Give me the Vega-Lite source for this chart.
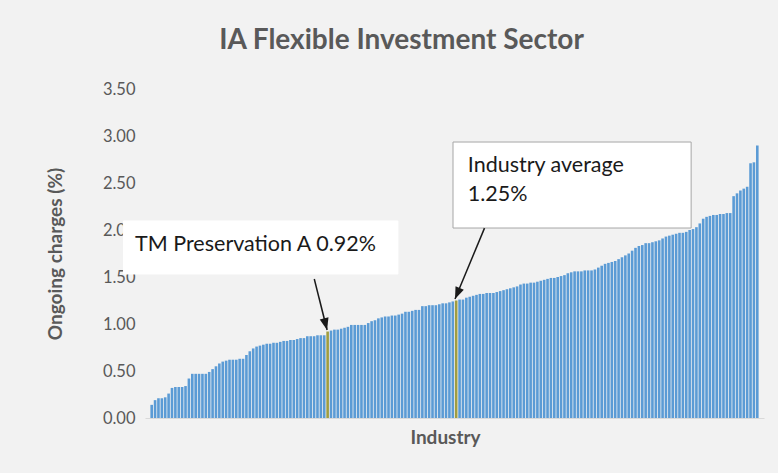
{
  "$schema": "https://vega.github.io/schema/vega-lite/v6.json",
  "autosize": {"type": "none"},
  "width": 619,
  "height": 329,
  "padding": {"left": 145, "top": 89, "right": 14, "bottom": 55},
  "background": "#f2f2f2",
  "config": {
    "view": {"stroke": null},
    "font": "Lato",
    "axisX": {
      "labels": false, "ticks": false, "grid": false,
      "domain": true, "domainColor": "#d9d9d9",
      "titleFont": "Lato", "titleFontSize": 19, "titleFontWeight": "bold", "titleColor": "#595959",
      "titleX": 300, "titleY": 19, "titleBaseline": "middle", "titleAlign": "center"
    },
    "axisY": {
      "grid": false, "domain": false, "ticks": false, "tickSize": 0, "zindex": 1,
      "labelPadding": 10, "labelFont": "Lato", "labelFontSize": 16.5, "labelColor": "#595959",
      "titleFont": "Lato", "titleFontSize": 19, "titleFontWeight": "bold", "titleColor": "#595959",
      "titleX": -90, "titleY": 164.5, "titleAngle": -90, "titleBaseline": "middle", "titleAlign": "center"
    }
  },
  "title": {
    "text": "IA Flexible Investment Sector",
    "fontSize": 28,
    "fontWeight": "bold",
    "color": "#595959",
    "font": "Lato",
    "anchor": "middle",
    "dx": -53,
    "offset": 26
  },
  "datasets": {
    "bars": [
      {"i":0,"v":0.14,"g":"Other"},{"i":1,"v":0.19,"g":"Other"},{"i":2,"v":0.21,"g":"Other"},{"i":3,"v":0.21,"g":"Other"},{"i":4,"v":0.22,"g":"Other"},
      {"i":5,"v":0.26,"g":"Other"},{"i":6,"v":0.32,"g":"Other"},{"i":7,"v":0.33,"g":"Other"},{"i":8,"v":0.33,"g":"Other"},{"i":9,"v":0.33,"g":"Other"},
      {"i":10,"v":0.34,"g":"Other"},{"i":11,"v":0.42,"g":"Other"},{"i":12,"v":0.47,"g":"Other"},{"i":13,"v":0.47,"g":"Other"},{"i":14,"v":0.47,"g":"Other"},
      {"i":15,"v":0.47,"g":"Other"},{"i":16,"v":0.47,"g":"Other"},{"i":17,"v":0.49,"g":"Other"},{"i":18,"v":0.52,"g":"Other"},{"i":19,"v":0.55,"g":"Other"},
      {"i":20,"v":0.58,"g":"Other"},{"i":21,"v":0.60,"g":"Other"},{"i":22,"v":0.61,"g":"Other"},{"i":23,"v":0.62,"g":"Other"},{"i":24,"v":0.62,"g":"Other"},
      {"i":25,"v":0.62,"g":"Other"},{"i":26,"v":0.63,"g":"Other"},{"i":27,"v":0.63,"g":"Other"},{"i":28,"v":0.67,"g":"Other"},{"i":29,"v":0.71,"g":"Other"},
      {"i":30,"v":0.74,"g":"Other"},{"i":31,"v":0.76,"g":"Other"},{"i":32,"v":0.77,"g":"Other"},{"i":33,"v":0.78,"g":"Other"},{"i":34,"v":0.79,"g":"Other"},
      {"i":35,"v":0.79,"g":"Other"},{"i":36,"v":0.80,"g":"Other"},{"i":37,"v":0.80,"g":"Other"},{"i":38,"v":0.81,"g":"Other"},{"i":39,"v":0.82,"g":"Other"},
      {"i":40,"v":0.82,"g":"Other"},{"i":41,"v":0.83,"g":"Other"},{"i":42,"v":0.83,"g":"Other"},{"i":43,"v":0.84,"g":"Other"},{"i":44,"v":0.85,"g":"Other"},
      {"i":45,"v":0.85,"g":"Other"},{"i":46,"v":0.87,"g":"Other"},{"i":47,"v":0.87,"g":"Other"},{"i":48,"v":0.87,"g":"Other"},{"i":49,"v":0.88,"g":"Other"},
      {"i":50,"v":0.88,"g":"Other"},{"i":51,"v":0.88,"g":"Other"},{"i":52,"v":0.92,"g":"TM Preservation A"},{"i":53,"v":0.93,"g":"Other"},{"i":54,"v":0.94,"g":"Other"},
      {"i":55,"v":0.94,"g":"Other"},{"i":56,"v":0.95,"g":"Other"},{"i":57,"v":0.96,"g":"Other"},{"i":58,"v":0.97,"g":"Other"},{"i":59,"v":0.99,"g":"Other"},
      {"i":60,"v":0.99,"g":"Other"},{"i":61,"v":0.99,"g":"Other"},{"i":62,"v":0.99,"g":"Other"},{"i":63,"v":0.99,"g":"Other"},{"i":64,"v":1.01,"g":"Other"},
      {"i":65,"v":1.03,"g":"Other"},{"i":66,"v":1.04,"g":"Other"},{"i":67,"v":1.06,"g":"Other"},{"i":68,"v":1.07,"g":"Other"},{"i":69,"v":1.08,"g":"Other"},
      {"i":70,"v":1.08,"g":"Other"},{"i":71,"v":1.09,"g":"Other"},{"i":72,"v":1.09,"g":"Other"},{"i":73,"v":1.10,"g":"Other"},{"i":74,"v":1.11,"g":"Other"},
      {"i":75,"v":1.13,"g":"Other"},{"i":76,"v":1.13,"g":"Other"},{"i":77,"v":1.14,"g":"Other"},{"i":78,"v":1.15,"g":"Other"},{"i":79,"v":1.15,"g":"Other"},
      {"i":80,"v":1.19,"g":"Other"},{"i":81,"v":1.19,"g":"Other"},{"i":82,"v":1.20,"g":"Other"},{"i":83,"v":1.20,"g":"Other"},{"i":84,"v":1.20,"g":"Other"},
      {"i":85,"v":1.21,"g":"Other"},{"i":86,"v":1.22,"g":"Other"},{"i":87,"v":1.22,"g":"Other"},{"i":88,"v":1.23,"g":"Other"},{"i":89,"v":1.24,"g":"Other"},
      {"i":90,"v":1.25,"g":"Industry average"},{"i":91,"v":1.26,"g":"Other"},{"i":92,"v":1.26,"g":"Other"},{"i":93,"v":1.28,"g":"Other"},{"i":94,"v":1.29,"g":"Other"},
      {"i":95,"v":1.30,"g":"Other"},{"i":96,"v":1.31,"g":"Other"},{"i":97,"v":1.32,"g":"Other"},{"i":98,"v":1.32,"g":"Other"},{"i":99,"v":1.33,"g":"Other"},
      {"i":100,"v":1.33,"g":"Other"},{"i":101,"v":1.33,"g":"Other"},{"i":102,"v":1.34,"g":"Other"},{"i":103,"v":1.35,"g":"Other"},{"i":104,"v":1.36,"g":"Other"},
      {"i":105,"v":1.37,"g":"Other"},{"i":106,"v":1.38,"g":"Other"},{"i":107,"v":1.39,"g":"Other"},{"i":108,"v":1.40,"g":"Other"},{"i":109,"v":1.42,"g":"Other"},
      {"i":110,"v":1.43,"g":"Other"},{"i":111,"v":1.43,"g":"Other"},{"i":112,"v":1.44,"g":"Other"},{"i":113,"v":1.44,"g":"Other"},{"i":114,"v":1.45,"g":"Other"},
      {"i":115,"v":1.46,"g":"Other"},{"i":116,"v":1.47,"g":"Other"},{"i":117,"v":1.48,"g":"Other"},{"i":118,"v":1.49,"g":"Other"},{"i":119,"v":1.49,"g":"Other"},
      {"i":120,"v":1.50,"g":"Other"},{"i":121,"v":1.51,"g":"Other"},{"i":122,"v":1.52,"g":"Other"},{"i":123,"v":1.54,"g":"Other"},{"i":124,"v":1.55,"g":"Other"},
      {"i":125,"v":1.56,"g":"Other"},{"i":126,"v":1.56,"g":"Other"},{"i":127,"v":1.56,"g":"Other"},{"i":128,"v":1.57,"g":"Other"},{"i":129,"v":1.57,"g":"Other"},
      {"i":130,"v":1.57,"g":"Other"},{"i":131,"v":1.58,"g":"Other"},{"i":132,"v":1.60,"g":"Other"},{"i":133,"v":1.62,"g":"Other"},{"i":134,"v":1.64,"g":"Other"},
      {"i":135,"v":1.65,"g":"Other"},{"i":136,"v":1.66,"g":"Other"},{"i":137,"v":1.67,"g":"Other"},{"i":138,"v":1.69,"g":"Other"},{"i":139,"v":1.71,"g":"Other"},
      {"i":140,"v":1.73,"g":"Other"},{"i":141,"v":1.75,"g":"Other"},{"i":142,"v":1.78,"g":"Other"},{"i":143,"v":1.81,"g":"Other"},{"i":144,"v":1.83,"g":"Other"},
      {"i":145,"v":1.84,"g":"Other"},{"i":146,"v":1.86,"g":"Other"},{"i":147,"v":1.86,"g":"Other"},{"i":148,"v":1.87,"g":"Other"},{"i":149,"v":1.88,"g":"Other"},
      {"i":150,"v":1.89,"g":"Other"},{"i":151,"v":1.91,"g":"Other"},{"i":152,"v":1.93,"g":"Other"},{"i":153,"v":1.94,"g":"Other"},{"i":154,"v":1.95,"g":"Other"},
      {"i":155,"v":1.96,"g":"Other"},{"i":156,"v":1.97,"g":"Other"},{"i":157,"v":1.97,"g":"Other"},{"i":158,"v":1.98,"g":"Other"},{"i":159,"v":2.00,"g":"Other"},
      {"i":160,"v":2.01,"g":"Other"},{"i":161,"v":2.03,"g":"Other"},{"i":162,"v":2.07,"g":"Other"},{"i":163,"v":2.12,"g":"Other"},{"i":164,"v":2.14,"g":"Other"},
      {"i":165,"v":2.15,"g":"Other"},{"i":166,"v":2.16,"g":"Other"},{"i":167,"v":2.16,"g":"Other"},{"i":168,"v":2.17,"g":"Other"},{"i":169,"v":2.17,"g":"Other"},
      {"i":170,"v":2.18,"g":"Other"},{"i":171,"v":2.18,"g":"Other"},{"i":172,"v":2.36,"g":"Other"},{"i":173,"v":2.39,"g":"Other"},{"i":174,"v":2.42,"g":"Other"},
      {"i":175,"v":2.44,"g":"Other"},{"i":176,"v":2.46,"g":"Other"},{"i":177,"v":2.71,"g":"Other"},{"i":178,"v":2.72,"g":"Other"},{"i":179,"v":2.90,"g":"Other"}
    ],
    "boxes": [
      {"name": "TM", "x": -8.35, "x2": 72.78, "y": 1.532, "y2": 2.096, "border": "none"},
      {"name": "avg", "x": 89.06, "x2": 159.44, "y": 2.021, "y2": 2.936, "border": "grey"}
    ],
    "arrows": [
      {"name": "TM", "x": 48.06, "y": 1.479, "x2": 51.84, "y2": 0.936, "angle": 165.7},
      {"name": "avg", "x": 98.37, "y": 2.02, "x2": 89.65, "y2": 1.266, "angle": 202.9}
    ],
    "labels": [
      {"label": "TM Preservation A 0.92%", "x": -4.9, "y": 1.84},
      {"label": "Industry average", "x": 93.43, "y": 2.681},
      {"label": "1.25%", "x": 93.43, "y": 2.372}
    ]
  },
  "layer": [
    {
      "data": {"name": "bars"},
      "mark": {"type": "bar", "width": 2.6},
      "encoding": {
        "x": {
          "field": "i", "type": "quantitative",
          "scale": {"domain": [-0.5, 179.5], "nice": false, "zero": false},
          "title": "Industry"
        },
        "y": {
          "field": "v", "type": "quantitative",
          "scale": {"domain": [0, 3.5], "nice": false},
          "title": "Ongoing charges (%)",
          "axis": {"values": [0, 0.5, 1, 1.5, 2, 2.5, 3, 3.5], "format": ".2f"}
        },
        "color": {
          "field": "g", "type": "nominal",
          "scale": {"domain": ["Other", "TM Preservation A", "Industry average"], "range": ["#5b9bd5", "#a09d40", "#a09d40"]},
          "legend": null
        }
      }
    },
    {
      "data": {"name": "boxes"},
      "mark": {"type": "rect", "fill": "white", "strokeWidth": 1},
      "encoding": {
        "x": {"field": "x", "type": "quantitative"},
        "x2": {"field": "x2"},
        "y": {"field": "y", "type": "quantitative"},
        "y2": {"field": "y2"},
        "stroke": {
          "field": "border", "type": "nominal",
          "scale": {"domain": ["none", "grey"], "range": ["#ffffff", "#a6a6a6"]},
          "legend": null
        }
      }
    },
    {
      "data": {"name": "arrows"},
      "mark": {"type": "rule", "color": "#1a1a1a", "strokeWidth": 1.5},
      "encoding": {
        "x": {"field": "x", "type": "quantitative"},
        "x2": {"field": "x2"},
        "y": {"field": "y", "type": "quantitative"},
        "y2": {"field": "y2"}
      }
    },
    {
      "data": {"name": "arrows"},
      "mark": {"type": "point", "shape": "M0,0L-0.45,1.2L0.45,1.2Z", "filled": true, "color": "#1a1a1a", "size": 400, "opacity": 1},
      "encoding": {
        "x": {"field": "x2", "type": "quantitative"},
        "y": {"field": "y2", "type": "quantitative"},
        "angle": {"field": "angle", "type": "quantitative", "scale": null}
      }
    },
    {
      "data": {"name": "labels"},
      "mark": {"type": "text", "align": "left", "baseline": "middle", "font": "Lato", "fontSize": 21.5, "color": "#1a1a1a"},
      "encoding": {
        "x": {"field": "x", "type": "quantitative"},
        "y": {"field": "y", "type": "quantitative"},
        "text": {"field": "label", "type": "nominal"}
      }
    }
  ]
}
